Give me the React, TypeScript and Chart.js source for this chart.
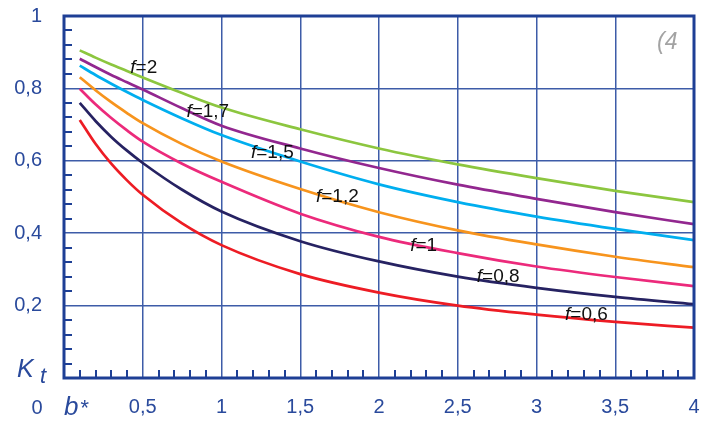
import React, { useEffect, useRef } from "react";
import { Chart, registerables } from "chart.js";

Chart.register(...registerables);

// ---- data ----
const bValues = [0.1, 0.2, 0.3, 0.4, 0.5, 0.75, 1, 1.5, 2, 2.5, 3, 3.5, 4];
const kF2 = [0.905, 0.885, 0.866, 0.848, 0.83, 0.787, 0.747, 0.687, 0.634, 0.59, 0.552, 0.517, 0.486];
const kF17 = [0.882, 0.859, 0.837, 0.817, 0.797, 0.745, 0.697, 0.634, 0.58, 0.534, 0.495, 0.458, 0.425];
const kF15 = [0.863, 0.837, 0.813, 0.79, 0.768, 0.717, 0.671, 0.598, 0.535, 0.486, 0.446, 0.412, 0.381];
const kF12 = [0.831, 0.795, 0.762, 0.732, 0.704, 0.646, 0.598, 0.522, 0.458, 0.408, 0.369, 0.335, 0.306];
const kF1 = [0.799, 0.756, 0.718, 0.684, 0.653, 0.592, 0.542, 0.454, 0.39, 0.345, 0.308, 0.279, 0.254];
const kF08 = [0.76, 0.71, 0.666, 0.628, 0.594, 0.52, 0.46, 0.378, 0.322, 0.28, 0.249, 0.224, 0.204];
const kF06 = [0.713, 0.647, 0.592, 0.546, 0.506, 0.427, 0.367, 0.287, 0.236, 0.2, 0.175, 0.155, 0.139];

const seriesValues = [kF2, kF17, kF15, kF12, kF1, kF08, kF06];
const seriesNames = ["f=2", "f=1,7", "f=1,5", "f=1,2", "f=1", "f=0,8", "f=0,6"];
const seriesColors = ["#8cc63f", "#92278f", "#00aeef", "#f7941d", "#ec2a7b", "#262262", "#ed1c24"];

// label anchor (left edge, vertical centre) in data units
const labelB = [0.421, 0.777, 1.187, 1.6, 2.198, 2.621, 3.181];
const labelK = [0.856, 0.736, 0.622, 0.5, 0.365, 0.279, 0.174];

const xTickLabels = ["", "0,5", "1", "1,5", "2", "2,5", "3", "3,5", "4"];
const yTickLabels = ["", "0,2", "0,4", "0,6", "0,8", "1"];

const axisBlue = "#2a4a9c";
const frameBlue = "#1e3f95";
const gridBlue = "#3d5ca8";
const FONT = "'Liberation Sans', Arial, sans-serif";

const annotPlugin = {
  id: "annot",
  afterDraw(chart: any) {
    const { ctx, chartArea: ca } = chart;
    const x = chart.scales.x;
    const y = chart.scales.y;
    ctx.save();
    // minor ticks
    ctx.strokeStyle = frameBlue;
    ctx.lineWidth = 2;
    ctx.beginPath();
    for (let i = 1; i < 40; i++) {
      if (i % 5 === 0) continue;
      const px = Math.round(x.getPixelForValue(i * 0.1));
      ctx.moveTo(px, ca.bottom);
      ctx.lineTo(px, ca.bottom - 8);
    }
    for (let i = 1; i < 25; i++) {
      if (i % 5 === 0) continue;
      const py = Math.round(y.getPixelForValue(i * 0.04));
      ctx.moveTo(ca.left, py);
      ctx.lineTo(ca.left + 8, py);
    }
    ctx.stroke();
    // frame
    ctx.lineWidth = 3;
    ctx.strokeStyle = frameBlue;
    ctx.strokeRect(ca.left, ca.top, ca.right - ca.left, ca.bottom - ca.top);

    // curve labels
    ctx.fillStyle = "#111";
    ctx.textBaseline = "middle";
    ctx.textAlign = "left";
    seriesNames.forEach((name, i) => {
      const px = x.getPixelForValue(labelB[i]);
      const py = y.getPixelForValue(labelK[i]);
      ctx.font = `italic 19px ${FONT}`;
      ctx.fillText("f", px, py);
      const w = ctx.measureText("f").width;
      ctx.font = `19px ${FONT}`;
      ctx.fillText(name.slice(1), px + w, py);
    });

    // "(4"
    ctx.fillStyle = "#a3a3a3";
    ctx.font = `italic 23px ${FONT}`;
    ctx.fillText("(4", ca.right - 37, ca.top + 27);

    // axis names
    ctx.fillStyle = axisBlue;
    ctx.textBaseline = "alphabetic";
    ctx.font = `italic 25px ${FONT}`;
    ctx.fillText("K", ca.left - 47, ca.bottom - 1);
    ctx.font = `italic 22px ${FONT}`;
    ctx.fillText("t", ca.left - 24, ca.bottom + 5);

    ctx.font = `italic 26px ${FONT}`;
    ctx.fillText("b", ca.left, ca.bottom + 37);
    const bw = ctx.measureText("b").width;
    ctx.font = `italic 22px ${FONT}`;
    ctx.fillText("*", ca.left + bw + 1, ca.bottom + 37);

    ctx.textAlign = "center";
    ctx.textBaseline = "middle";
    ctx.font = `20px ${FONT}`;
    ctx.fillText("0", ca.left - 27, ca.bottom + 30);
    ctx.restore();
  },
};

export default function App() {
  const ref = useRef<HTMLCanvasElement | null>(null);
  useEffect(() => {
    if (!ref.current) return;
    const chart = new Chart(ref.current, {
      type: "line",
      data: {
        datasets: seriesValues.map((vals, i) => ({
          label: seriesNames[i],
          data: vals.map((v, j) => ({ x: bValues[j], y: v })),
          borderColor: seriesColors[i],
          backgroundColor: seriesColors[i],
          borderWidth: 2.7,
          pointRadius: 0,
          cubicInterpolationMode: "monotone" as const,
          fill: false,
        })),
      },
      options: {
        animation: false,
        responsive: true,
        maintainAspectRatio: false,
        layout: { padding: { top: 16, right: 19, left: 0, bottom: 0 } },
        plugins: { legend: { display: false }, tooltip: { enabled: false } },
        scales: {
          x: {
            type: "linear",
            min: 0,
            max: 4,
            afterFit: (s: any) => {
              s.height = 43;
              s.paddingLeft = 0;
              s.paddingRight = 0;
            },
            afterBuildTicks: (s: any) => {
              s.ticks = xTickLabels.map((_, i) => ({ value: i * 0.5 }));
            },
            ticks: {
              autoSkip: false,
              maxRotation: 0,
              padding: 17,
              color: axisBlue,
              font: { family: FONT, size: 20 },
              callback: (_v: any, i: number) => xTickLabels[i],
            },
            grid: { color: gridBlue, lineWidth: 1.5, drawTicks: false },
            border: { display: false },
          },
          y: {
            type: "linear",
            min: 0,
            max: 1,
            afterFit: (s: any) => {
              s.width = 64;
              s.paddingTop = 0;
              s.paddingBottom = 0;
            },
            afterBuildTicks: (s: any) => {
              s.ticks = yTickLabels.map((_, i) => ({ value: i * 0.2 }));
            },
            ticks: {
              autoSkip: false,
              padding: 22,
              color: axisBlue,
              font: { family: FONT, size: 20 },
              callback: (_v: any, i: number) => yTickLabels[i],
            },
            grid: { color: gridBlue, lineWidth: 1.5, drawTicks: false },
            border: { display: false },
          },
        },
      },
      plugins: [annotPlugin],
    });
    return () => chart.destroy();
  }, []);

  return (
    <div style={{ position: "absolute", left: 0, top: 0, width: 713, height: 421, background: "#fff" }}>
      <canvas ref={ref} />
    </div>
  );
}
